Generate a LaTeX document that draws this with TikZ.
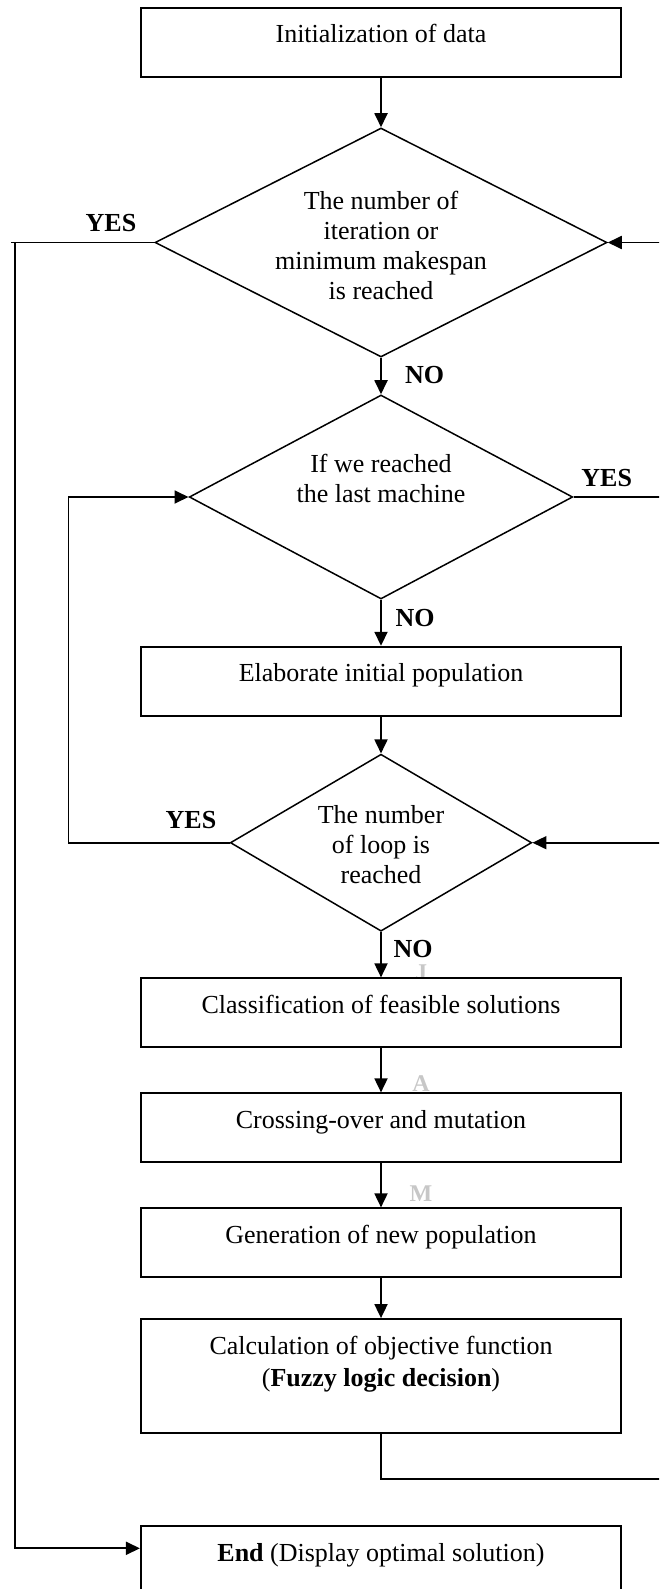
\documentclass[tikz,border=0pt]{standalone}
\usepackage{fontspec}
\setmainfont{Liberation Serif}
\usetikzlibrary{shapes.geometric,arrows.meta}
\begin{document}
\begin{tikzpicture}[x=1pt,y=-1pt,
  every node/.style={font=\fontsize{26}{30}\selectfont},
  procbox/.style={draw, fill=white, line width=1.8pt, rectangle, inner sep=0pt, minimum width=480.4pt, anchor=base},
  decision/.style={draw, fill=white, line width=1.5pt, diamond, aspect=2, inner sep=0pt, text height=0pt},
  lbl/.style={font=\fontsize{26}{30}\selectfont\bfseries, anchor=base, inner sep=0pt},
  wm/.style={font=\fontsize{24}{28}\selectfont\bfseries, text=black!22, anchor=base, inner sep=0pt},
  line/.style={line width=1.8pt},
  arr/.style={line width=1.8pt, -{Triangle[length=14pt,width=13pt]}},
]
\useasboundingbox (0,0) rectangle (659,1589);
\clip (0,0) rectangle (659,1589);

% faint watermark letters
\node[wm] (wJ) at (421,980) {J};
\node[wm] (wA) at (421,1091) {A};
\node[wm] (wM) at (421,1201) {M};

% process boxes
\node[procbox, text height=34.7pt, text depth=34.3pt] (b1) at (381,43) {Initialization of data};
\node[procbox, text height=35pt, text depth=34.3pt] (b2) at (381,681.7) {Elaborate initial population};
\node[procbox, text height=35pt, text depth=34pt] (b3) at (381,1013.3) {Classification of feasible solutions};
\node[procbox, text height=35pt, text depth=34pt] (b4) at (381,1128.3) {Crossing-over and mutation};
\node[procbox, text height=35pt, text depth=33.4pt] (b5) at (381,1243.3) {Generation of new population};
\node[procbox, text height=35pt, text depth=79.3pt] (b6) at (381,1354)
  {\begin{tabular}[t]{@{}c@{}}Calculation of objective function\\[2pt](\textbf{Fuzzy logic decision})\end{tabular}};
\node[procbox, text height=36pt, text depth=45pt] (b7) at (381,1561.7) {\textbf{End} (Display optimal solution)};

% decisions
\node[decision, minimum width=452pt, minimum height=229pt, text depth=65pt] (d1) at (381,242.5)
  {\begin{tabular}[t]{@{}c@{}}The number of\\iteration or\\minimum makespan\\is reached\end{tabular}};
\node[decision, minimum width=383.5pt, minimum height=204pt, text depth=48.6pt] (d2) at (381,497)
  {\begin{tabular}[t]{@{}c@{}}If we reached\\the last machine\end{tabular}};
\node[decision, minimum width=301.4pt, minimum height=177pt, text depth=39.4pt] (d3) at (381,842.7)
  {\begin{tabular}[t]{@{}c@{}}The number\\of loop is\\reached\end{tabular}};

% labels
\node[lbl] (yes1) at (111,231.7) {YES};
\node[lbl] (no1) at (424.5,383) {NO};
\node[lbl] (yes2) at (606.7,486) {YES};
\node[lbl] (no2) at (415,626.7) {NO};
\node[lbl] (yes3) at (191,828.3) {YES};
\node[lbl] (no3) at (413,957) {NO};

% main flow
\draw[arr] (b1) -- (d1);
\draw[arr] (d1) -- (d2);
\draw[arr] (d2) -- (b2);
\draw[arr] (b2) -- (d3);
\draw[arr] (d3) -- (b3);
\draw[arr] (b3) -- (b4);
\draw[arr] (b4) -- (b5);
\draw[arr] (b5) -- (b6);

% loop back from objective function to loop test
\coordinate (r1) at (690,1479.3);
\draw[arr] (b6.south) |- (r1) |- (d3.east);

% last machine reached -> back to iteration test
\coordinate (r2) at (690,497);
\draw[arr] (d2.east) -- (r2) |- (d1.east);

% loop reached -> back to machine test
\coordinate (l4) at (68.5,842.7);
\draw[arr] (d3.west) -- (l4) |- (d2.west);

% iteration reached -> End
\coordinate (l1) at (10.5,242.5);
\coordinate (l2) at (15,242.5);
\coordinate (l3) at (15,1548.3);
\draw[line] (d1.west) -- (l1);
\draw[arr] (l2) -- (l3) -- (l3 -| b7.west);
\end{tikzpicture}
\end{document}
